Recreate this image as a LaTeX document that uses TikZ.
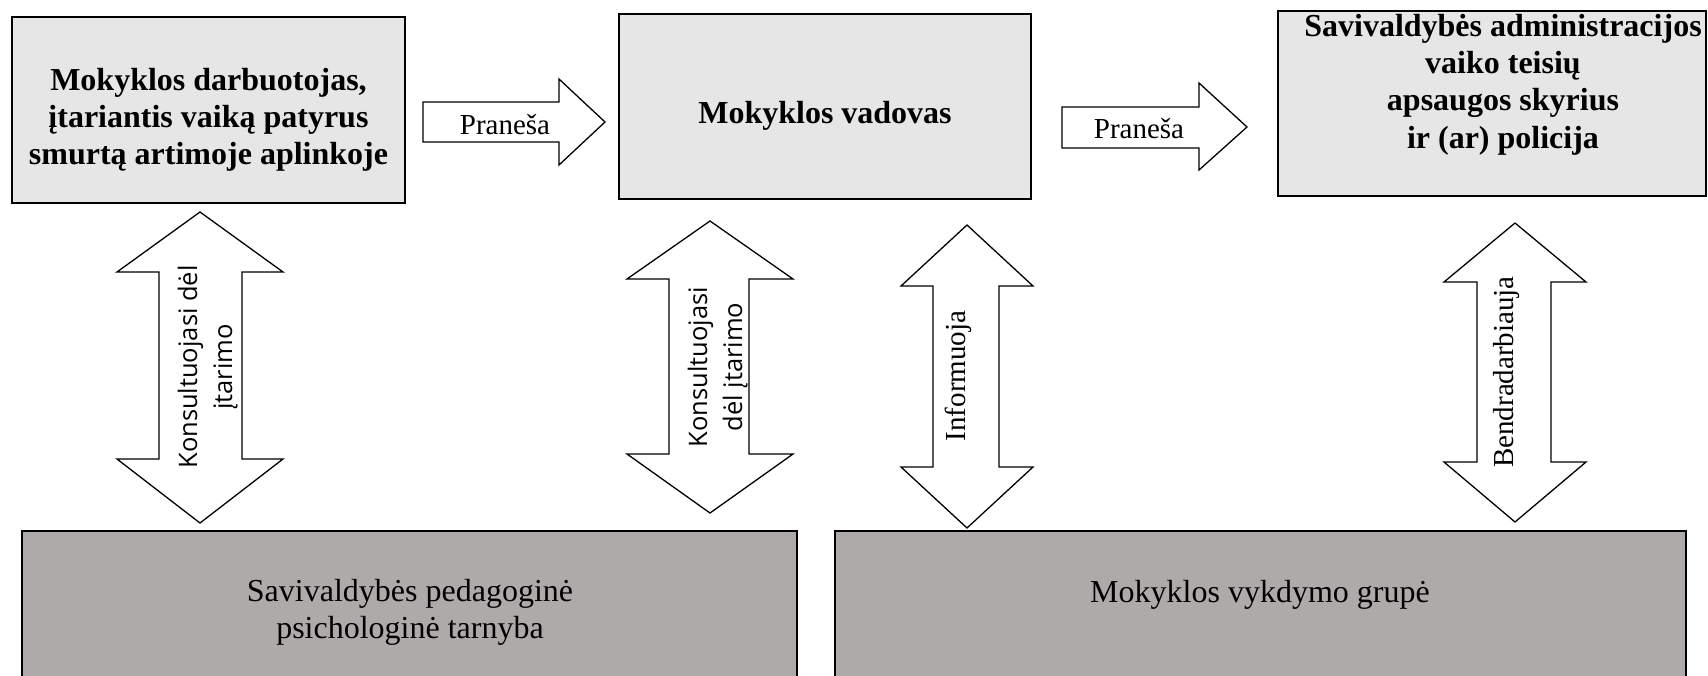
\documentclass[tikz,border=0pt]{standalone}
\usepackage{fontspec}
\setmainfont{Liberation Serif}
\newfontfamily\osans{Open Sans}
\definecolor{topgrey}{RGB}{231,230,230}
\definecolor{botgrey}{RGB}{174,170,170}
\begin{document}
\begin{tikzpicture}[x=1pt,y=-1pt,
  topbox/.style={draw=black, line width=2.5pt, fill=topgrey, inner sep=0pt},
  botbox/.style={draw=black, line width=2.5pt, fill=botgrey, inner sep=0pt},
  blockarrow/.style={draw=black, line width=1.3pt, fill=white, line join=miter},
  boldtxt/.style={font=\fontsize{32}{37.2}\selectfont\bfseries, align=center, anchor=base, inner sep=0pt},
  plaintxt/.style={font=\fontsize{32}{36.8}\selectfont, align=center, anchor=base, inner sep=0pt},
  arrtxt/.style={font=\fontsize{29}{33}\selectfont, anchor=base, inner sep=0pt},
  vsans/.style={font=\osans\fontsize{25.5}{35}\selectfont, align=center, anchor=base, inner sep=0pt, rotate=90},
  vserif/.style={font=\fontsize{29}{33}\selectfont, anchor=base, inner sep=0pt, rotate=90}
]
\useasboundingbox (0,0) rectangle (1708,675);

% boxes
\node[topbox, minimum width=393pt, minimum height=186pt] (b1) at (208.5,110) {};
\node[topbox, minimum width=412pt, minimum height=185pt] (b2) at (825,106.5) {};
\node[topbox, minimum width=428pt, minimum height=185pt] (b3) at (1492,103.5) {};
\node[botbox, minimum width=775pt, minimum height=170pt] (bl) at (409.5,616) {};
\node[botbox, minimum width=851pt, minimum height=170pt] (br) at (1260.5,616) {};

% box texts (anchor base = baseline of the last line)
\node[boldtxt] (t1) at (208.5,164.4) {Mokyklos darbuotojas,\\įtariantis vaiką patyrus\\smurtą artimoje aplinkoje};
\node[boldtxt] (t2) at (825,123) {Mokyklos vadovas};
\node[boldtxt] (t3) at (1503,148) {Savivaldybės administracijos\\vaiko teisių\\apsaugos skyrius\\ir (ar) policija};
\node[plaintxt] (tl) at (410,638.5) {Savivaldybės pedagoginė\\psichologinė tarnyba};
\node[plaintxt] (tr) at (1260,602) {Mokyklos vykdymo grupė};

% horizontal block arrows
\draw[blockarrow] (423,102) -- (559,102) -- (559,79) -- (605,122) -- (559,165) -- (559,142) -- (423,142) -- cycle;
\draw[blockarrow] (1062,107) -- (1199,107) -- (1199,83) -- (1247,127) -- (1199,170) -- (1199,148) -- (1062,148) -- cycle;
\node[arrtxt] (p1) at (505,134) {Praneša};
\node[arrtxt] (p2) at (1139,138) {Praneša};

% vertical double block arrows
\draw[blockarrow] (200,212) -- (283,272) -- (242,272) -- (242,459) -- (283,459) -- (200,523) -- (117,459) -- (159,459) -- (159,272) -- (117,272) -- cycle;
\draw[blockarrow] (710,221) -- (793,279) -- (749,279) -- (749,454) -- (793,454) -- (710,513) -- (627,454) -- (669,454) -- (669,279) -- (627,279) -- cycle;
\draw[blockarrow] (967,225) -- (1033,286) -- (999,286) -- (999,467) -- (1033,467) -- (967,528) -- (901,467) -- (933,467) -- (933,286) -- (901,286) -- cycle;
\draw[blockarrow] (1515,223) -- (1586,282) -- (1551,282) -- (1551,462) -- (1586,462) -- (1515,522) -- (1444,462) -- (1477,462) -- (1477,282) -- (1444,282) -- cycle;

\node[vsans] (v1) at (232,367) {Konsultuojasi dėl\\įtarimo};
\node[vsans] (v2) at (742,367) {Konsultuojasi\\dėl įtarimo};
\node[vserif] (v3) at (965,376) {Informuoja};
\node[vserif] (v4) at (1513,372) {Bendradarbiauja};
\end{tikzpicture}
\end{document}
